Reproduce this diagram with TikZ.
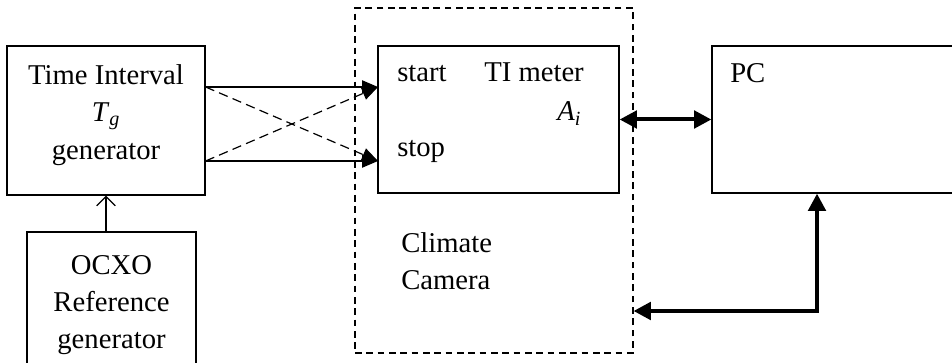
\documentclass[tikz,border=0pt]{standalone}
\usepackage{fontspec}
\setmainfont{Liberation Serif}
\usetikzlibrary{arrows.meta,positioning}

\begin{document}
\begin{tikzpicture}[
  x=0.75pt, y=-0.75pt,
  font=\fontsize{21.5}{28}\selectfont,
  box/.style={draw, line width=0.9pt, align=center, inner sep=0pt},
  camerabox/.style={draw, line width=0.8pt, dash pattern=on 5pt off 3.5pt, inner sep=0pt},
  txt/.style={align=center, inner sep=0pt},
  lbl/.style={anchor=base west, inner sep=0pt},
  sig/.style={-{Triangle[length=12pt,width=10pt]}, line width=0.9pt},
  sigx/.style={sig, dash pattern=on 7pt off 4pt},
  bus/.style={{Triangle[length=13pt,width=13pt]}-{Triangle[length=13pt,width=13pt]}, line width=3pt},
  refarr/.style={-{Straight Barb[length=7pt,width=14pt]}, line width=0.9pt}
]
  \useasboundingbox (0,0) rectangle (952,363);

  % blocks
  \node[box, minimum width=148.5pt, minimum height=111.75pt] (gen) at (106,120.5) {};
  \node[box, minimum width=126.75pt, minimum height=105pt] (ocxo) at (111.5,302) {};
  \node[camerabox, minimum width=208.5pt, minimum height=258.75pt] (camera) at (494,180.5) {};
  \node[box, minimum width=180.75pt, minimum height=110.25pt] (meter) at (498.5,119.5) {};
  \node[box, minimum width=186pt, minimum height=110.25pt] (pc) at (836,119.5) {};

  % texts
  \node[txt] (gentxt) at (106,115)
    {Time Interval\\\textit{T}\textsubscript{\textit{g}}\\generator};
  \node[txt] (ocxotxt) at (111.5,305) {OCXO\\Reference\\generator};
  \node[lbl] (startlbl) at (397,82) {start};
  \node[lbl] (metlbl) at (484,82) {TI meter};
  \node[lbl] (ailbl) at (557,121) {\textit{A}\textsubscript{\textit{i}}};
  \node[lbl] (stoplbl) at (397,157) {stop};
  \node[lbl, align=left, anchor=north west] (climlbl) at (401,232) {Climate\\Camera};
  \node[lbl] (pclbl) at (730,83) {PC};

  % ports
  \coordinate (mstart) at (378,87);
  \coordinate (mstop) at (378,161);
  \coordinate (ret) at (817,311);

  % connectors
  \draw[sig] (gen.east |- mstart) -- (mstart);
  \draw[sig] (gen.east |- mstop) -- (mstop);
  \draw[sigx] (gen.east |- mstart) -- (mstop);
  \draw[sigx] (gen.east |- mstop) -- (mstart);
  \draw[refarr] (ocxo.north -| gen.south) -- (gen.south);
  \draw[bus] (meter.east) -- (pc.west);
  \draw[bus] (camera.east |- ret) -- (ret) -- (ret |- pc.south);
\end{tikzpicture}
\end{document}
